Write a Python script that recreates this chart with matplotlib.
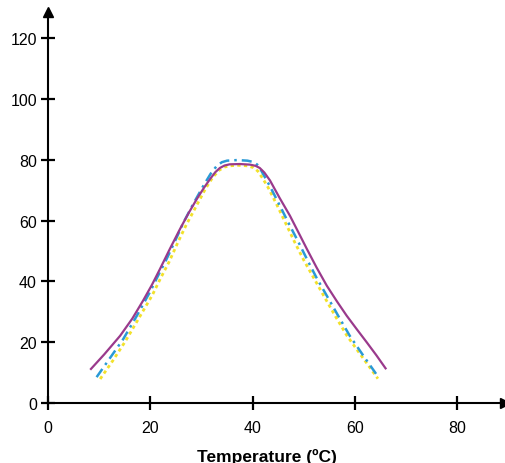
import matplotlib.pyplot as plt

plt.rcParams['font.family'] = ['Liberation Sans', 'DejaVu Sans']

# purple solid curve
temp_a = [8.4, 11.0, 14.1, 16.5, 18.6, 20.3, 21.9, 23.8, 25.8, 27.5, 29.1, 30.5, 31.7, 32.7, 33.6, 34.5,
          35.5, 37.5, 39.5, 40.6, 41.4, 42.3, 43.4, 45.3, 47.3, 49.0, 50.6, 52.5, 54.5, 56.5, 58.4, 60.4,
          62.3, 64.2, 66.0]
val_a = [11.2, 16.0, 22.1, 27.8, 33.7, 38.8, 44.1, 50.6, 57.2, 62.5, 67.1, 70.8, 73.7, 75.9, 77.3, 78.1,
         78.5, 78.6, 78.4, 78.0, 77.3, 75.8, 73.2, 67.4, 61.6, 56.0, 50.7, 44.6, 38.6, 33.4, 28.7, 24.2,
         20.0, 15.7, 11.4]

# blue dash-dot curve
temp_b = [9.5, 12.0, 14.7, 17.3, 19.9, 21.5, 23.2, 24.9, 26.5, 28.5, 30.4, 31.8, 33.0, 34.0, 35.0, 37.0,
          39.0, 40.3, 41.2, 42.0, 43.0, 44.0, 45.6, 47.3, 49.0, 50.6, 52.5, 54.5, 56.8, 59.0, 61.8, 64.6]
val_b = [8.5, 14.5, 21.0, 28.5, 36.4, 41.8, 47.4, 53.5, 59.4, 65.8, 71.5, 75.4, 78.0, 79.2, 79.7, 79.9,
         79.7, 79.2, 78.0, 75.5, 72.5, 69.3, 64.0, 58.3, 52.8, 47.4, 41.2, 35.3, 28.5, 22.1, 15.2, 8.5]

# yellow dotted curve
temp_c = [10.2, 12.7, 15.2, 17.8, 20.4, 22.0, 23.7, 25.3, 27.0, 29.0, 30.8, 32.2, 33.5, 34.5, 35.5, 37.0,
          39.0, 40.2, 41.0, 42.0, 43.0, 44.8, 46.5, 48.2, 50.0, 52.0, 54.0, 56.2, 58.5, 61.5, 64.5]
val_c = [7.9, 14.0, 20.5, 28.0, 35.5, 41.0, 46.5, 52.5, 58.5, 64.8, 70.5, 74.2, 76.6, 77.6, 78.0, 78.2,
         78.0, 77.4, 76.3, 73.8, 71.0, 65.0, 59.0, 53.0, 47.0, 41.0, 35.0, 28.5, 22.0, 15.0, 8.0]

x_ticks = [0, 20, 40, 60, 80]
y_ticks = [0, 20, 40, 60, 80, 100, 120]

fig = plt.figure(figsize=(5.05, 4.64), dpi=100)
ax = fig.add_axes([48 / 505, 60 / 464, 457 / 505, 391 / 464])

ax.plot(temp_c, val_c, color='#f2e12a', lw=2, dashes=(1.2, 1.2))
ax.plot(temp_b, val_b, color='#2a9ad6', lw=1.8, dashes=(4, 2, 1, 2))
ax.plot(temp_a, val_a, color='#9a3a8c', lw=1.6)

ax.set_xlim(0, 89.35)
ax.set_ylim(0, 128.6)
ax.set_xticks(x_ticks)
ax.set_yticks(y_ticks)
ax.tick_params(direction='inout', length=10, width=1.6, labelsize=11.5)
ax.tick_params(axis='x', pad=7)
ax.tick_params(axis='y', pad=3)
for s in ['top', 'right']:
    ax.spines[s].set_visible(False)
for s in ['left', 'bottom']:
    ax.spines[s].set_linewidth(1.5)
    ax.spines[s].set_clip_on(False)

# arrow heads on the axes
ax.plot(0, 1, '^k', ms=7, transform=ax.transAxes, clip_on=False)
ax.plot(1, 0, '>k', ms=7, transform=ax.transAxes, clip_on=False)

ax.set_xlabel('Temperature (ºC)', fontsize=12.5, fontweight='bold')
ax.xaxis.set_label_coords(219 / 457, -45 / 391)

fig.savefig('out.png', dpi=100, facecolor='white')
